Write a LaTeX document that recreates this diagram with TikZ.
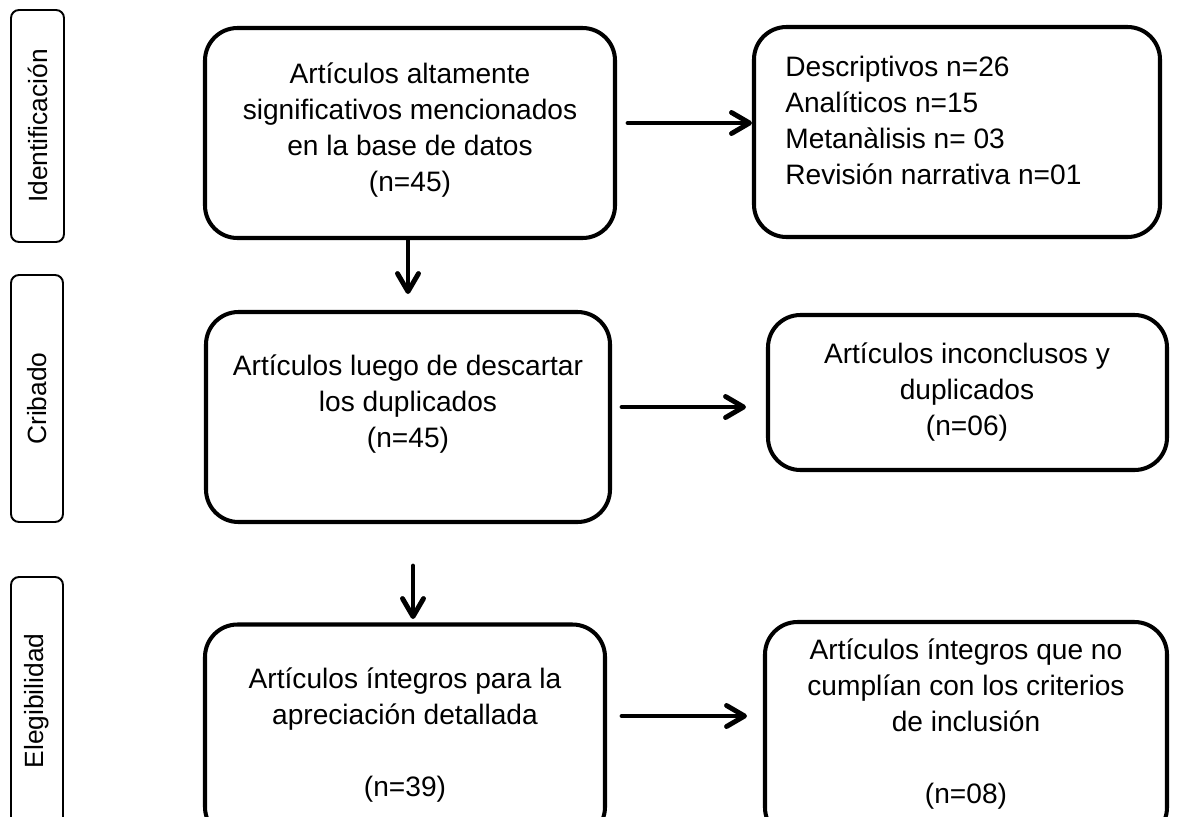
\documentclass[tikz,border=0pt]{standalone}
\usepackage{fontspec}
\setmainfont{Liberation Sans}
\usetikzlibrary{arrows.meta}
\begin{document}
\begin{tikzpicture}[x=0.02cm,y=-0.02cm,
  box/.style={draw, line width=2.3pt, rounded corners=0.65cm, inner sep=0pt},
  lab/.style={draw, line width=1.1pt, rounded corners=0.16cm, inner sep=0pt},
  txt/.style={align=center, font=\fontsize{16}{20.5}\selectfont, inner sep=0pt},
  labtxt/.style={rotate=90, font=\fontsize{15}{18}\selectfont, inner sep=0pt},
  arr/.style={line width=2.8pt, line cap=round, -{Straight Barb[length=0.36cm,width=0.42cm,line cap=round,line join=round]}}]
\useasboundingbox (0,0) rectangle (1181,816);
\clip (0,0) rectangle (1181,816);
% side labels
\node[lab, minimum width={53*0.02cm}, minimum height={232*0.02cm}] (l1) at (37.5,126) {};
\node[labtxt] (lt1) at (l1.center) {Identificación};
\node[lab, minimum width={52*0.02cm}, minimum height={247*0.02cm}] (l2) at (37,398.5) {};
\node[labtxt] (lt2) at (l2.center) {Cribado};
\node[lab, minimum width={52*0.02cm}, minimum height={263*0.02cm}] (l3) at (37,708.5) {};
\node[labtxt] (lt3) at (37,701) {Elegibilidad};
% main boxes
\node[box, minimum width={410*0.02cm}, minimum height={210*0.02cm}] (b1) at (410,133) {};
\node[txt] (t1) at (410,130) {Artículos altamente\\significativos mencionados\\en la base de datos\\(n=45)};
\node[box, minimum width={406*0.02cm}, minimum height={210*0.02cm}] (b2) at (957,132) {};
\node[txt, align=left, anchor=west] (t2) at (785,120) {Descriptivos n=26\\Analíticos n=15\\Metanàlisis n= 03\\Revisión narrativa n=01};
\node[box, minimum width={404*0.02cm}, minimum height={210*0.02cm}] (b3) at (408,417) {};
\node[txt] (t3) at (408,404) {Artículos luego de descartar\\los duplicados\\(n=45)};
\node[box, minimum width={399*0.02cm}, minimum height={155*0.02cm}] (b4) at (967.5,392.5) {};
\node[txt] (t4) at (967,392) {Artículos inconclusos y\\duplicados\\(n=06)};
\node[box, minimum width={400*0.02cm}, minimum height={215*0.02cm}] (b5) at (405,732) {};
\node[txt] (t5) at (405,735) {Artículos íntegros para la\\apreciación detallada\\[20.5pt](n=39)};
\node[box, minimum width={402*0.02cm}, minimum height={218*0.02cm}] (b6) at (966,731) {};
\node[txt] (t6) at (966,724) {Artículos íntegros que no\\cumplían con los criterios\\de inclusión\\[20.5pt](n=08)};
% connectors
\coordinate (a1s) at (628,123);
\coordinate (a2s) at (622,407);
\coordinate (a2e) at (746,407);
\coordinate (a3s) at (622,716);
\coordinate (a3e) at (747,716);
\coordinate (d1s) at (408,241);
\coordinate (d1e) at (408,294);
\coordinate (d2s) at (413,566);
\coordinate (d2e) at (413,619);
\draw[arr] (a1s) -- (b2.west |- a1s);
\draw[arr] (a2s) -- (a2e);
\draw[arr] (a3s) -- (a3e);
\draw[arr] (d1s) -- (d1e);
\draw[arr] (d2s) -- (d2e);
\end{tikzpicture}
\end{document}
